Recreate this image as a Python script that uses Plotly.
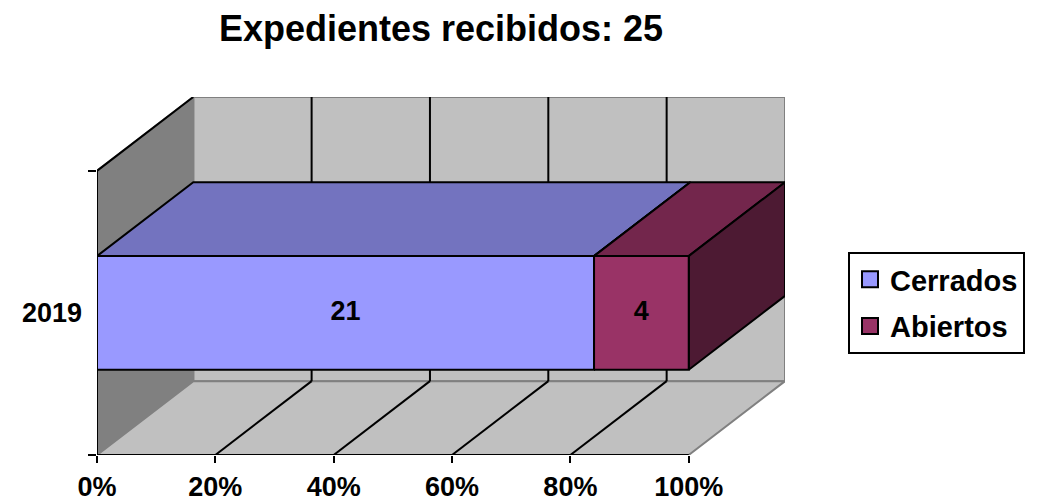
import plotly.graph_objects as go

# ---------------- data ----------------
categories = ["2019"]
series_names = ["Cerrados", "Abiertos"]
cerrados = [21]
abiertos = [4]
x_tick_vals = [0, 20, 40, 60, 80, 100]
x_tick_text = ["0%", "20%", "40%", "60%", "80%", "100%"]
title_prefix = "Expedientes recibidos: "

# ---------------- style ----------------
FONT = "Liberation Sans, Arial, sans-serif"
front_colors = ["#9999FF", "#993366"]
top_colors = ["#7373BF", "#73264C"]
side_colors = ["#5A5A99", "#4D1A33"]
WALL_BACK = "#C0C0C0"
WALL_LEFT = "#808080"
EDGE_GRAY = "#808080"
DEPTH_X = 16.27     # depth offset in percent units
DEPTH_Y = 0.26      # depth offset in category units
BAR_HALF = 0.20     # half bar thickness in category units

# page body has an 8px margin; figure coordinates are offset accordingly
OFF = 8
FIG_W, FIG_H = 1041 - OFF, 503 - OFF
PLOT_L, PLOT_T, PLOT_W, PLOT_H = 97 - OFF, 97 - OFF, 688, 358

series_values = [cerrados, abiertos]
totals = [sum(v[i] for v in series_values) for i in range(len(categories))]
grand_total = sum(totals)

fig = go.Figure()


def poly(xs, ys, fill, line_color="rgba(0,0,0,0)", width=0):
    fig.add_trace(go.Scatter(
        x=list(xs) + [xs[0]], y=list(ys) + [ys[0]], mode="lines",
        fill="toself", fillcolor=fill,
        line=dict(color=line_color, width=width),
        hoverinfo="skip", showlegend=False))


def seg(xs, ys, color, width=2):
    fig.add_trace(go.Scatter(
        x=xs, y=ys, mode="lines", line=dict(color=color, width=width),
        hoverinfo="skip", showlegend=False))


n_cat = len(categories)
X_MAX = 100
Y_MAX = n_cat

# back wall
poly([DEPTH_X, X_MAX + DEPTH_X, X_MAX + DEPTH_X, DEPTH_X],
     [DEPTH_Y, DEPTH_Y, Y_MAX + DEPTH_Y, Y_MAX + DEPTH_Y], WALL_BACK, EDGE_GRAY, 2)
# left wall
poly([0, DEPTH_X, DEPTH_X, 0], [0, DEPTH_Y, Y_MAX + DEPTH_Y, Y_MAX], WALL_LEFT, EDGE_GRAY, 2)
# floor
poly([0, X_MAX, X_MAX + DEPTH_X, DEPTH_X], [0, 0, DEPTH_Y, DEPTH_Y], WALL_BACK, EDGE_GRAY, 2)
# left wall top edge
seg([0, DEPTH_X], [Y_MAX, Y_MAX + DEPTH_Y], "black", 2)

# gridlines on back wall and floor
for tv in x_tick_vals[1:-1]:
    seg([tv + DEPTH_X, tv + DEPTH_X], [DEPTH_Y, Y_MAX + DEPTH_Y], "black", 2)
    seg([tv, tv + DEPTH_X], [0, DEPTH_Y], "black", 2)

# bars (100% stacked, 3D)
label_x, label_y, label_t = [], [], []
for ci in range(n_cat):
    yc = ci + 0.5
    y0, y1 = yc - BAR_HALF, yc + BAR_HALF
    cum = 0.0
    for si, vals in enumerate(series_values):
        pct = vals[ci] / totals[ci] * 100
        x0, x1 = cum, cum + pct
        cum = x1
        # top face
        poly([x0, x1, x1 + DEPTH_X, x0 + DEPTH_X], [y1, y1, y1 + DEPTH_Y, y1 + DEPTH_Y],
             top_colors[si], "black", 2)
        # right side face
        poly([x1, x1 + DEPTH_X, x1 + DEPTH_X, x1], [y0, y0 + DEPTH_Y, y1 + DEPTH_Y, y1],
             side_colors[si], "black", 2)
        # front face
        poly([x0, x1, x1, x0], [y0, y0, y1, y1], front_colors[si], "black", 2)
        label_x.append((x0 + x1) / 2)
        label_y.append(yc)
        label_t.append(str(vals[ci]))

# axis lines
seg([0, X_MAX], [0, 0], "black", 2)
seg([0, 0], [0, Y_MAX], "black", 2)

# data labels
fig.add_trace(go.Scatter(
    x=label_x, y=label_y, text=label_t, mode="text", textposition="middle center",
    textfont=dict(family=FONT, size=27, color="black", weight="bold"),
    hoverinfo="skip", showlegend=False))

# legend entries
for si, name in enumerate(series_names):
    fig.add_trace(go.Scatter(
        x=[None], y=[None], mode="markers", name=name, legendgroup=name,
        marker=dict(symbol="square", size=16, color=front_colors[si],
                    line=dict(color="black", width=2))))

fig.update_layout(
    width=FIG_W, height=FIG_H, autosize=False,
    margin=dict(l=PLOT_L, r=FIG_W - PLOT_L - PLOT_W, t=PLOT_T,
                b=FIG_H - PLOT_T - PLOT_H, pad=0, autoexpand=False),
    paper_bgcolor="white", plot_bgcolor="white",
    font=dict(family=FONT, color="black"),
    title=dict(text=f"{title_prefix}{grand_total}", x=0.5, xref="paper", xanchor="center",
               y=1 - (28 - OFF) / FIG_H, yref="container", yanchor="middle",
               font=dict(family=FONT, size=36, color="black", weight="bold")),
    xaxis=dict(range=[0, X_MAX + DEPTH_X], tickvals=x_tick_vals, ticktext=x_tick_text,
               ticks="outside", ticklen=7, tickwidth=2, tickcolor="black",
               ticklabelstandoff=1, automargin=False,
               showgrid=False, zeroline=False, showline=False, fixedrange=True,
               tickfont=dict(family=FONT, size=27, color="black", weight="bold")),
    yaxis=dict(range=[0, Y_MAX + DEPTH_Y], tickvals=[i + 0.5 for i in range(n_cat)],
               ticktext=categories, ticks="", ticklabelstandoff=14, automargin=False,
               minor=dict(tickvals=list(range(n_cat + 1)), ticks="outside", ticklen=8,
                          tickwidth=2, tickcolor="black"),
               showgrid=False, zeroline=False, showline=False, fixedrange=True,
               tickfont=dict(family=FONT, size=27, color="black", weight="bold")),
    legend=dict(x=(848 - 97) / PLOT_W, y=(455 - 252) / PLOT_H, xanchor="left", yanchor="top",
                bordercolor="black", borderwidth=2, bgcolor="white",
                traceorder="grouped", tracegroupgap=6, itemsizing="trace",
                font=dict(family=FONT, size=29, color="black", weight="bold")),
    showlegend=True,
)

fig.write_html("out.html")
